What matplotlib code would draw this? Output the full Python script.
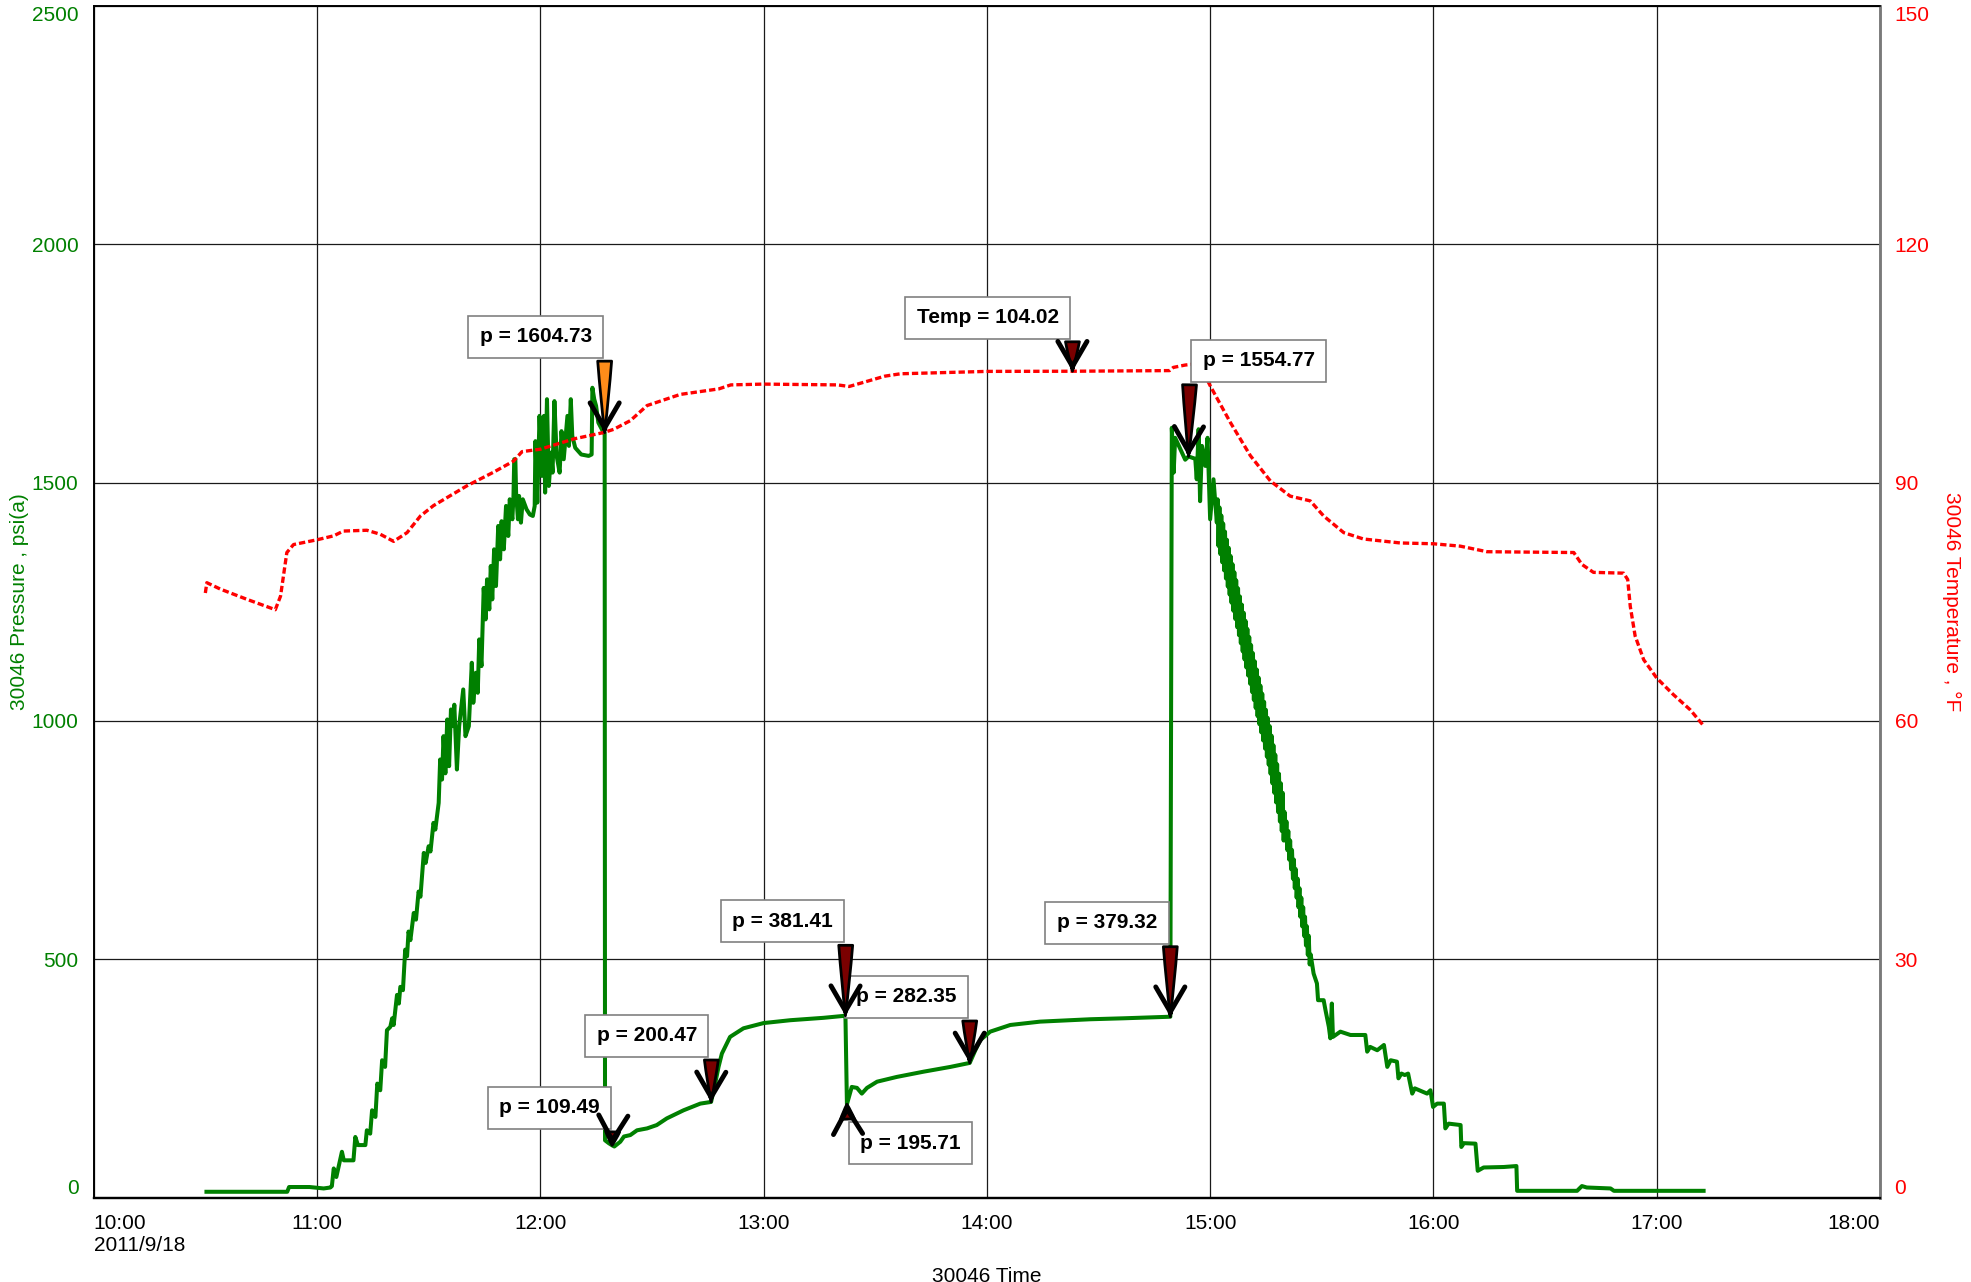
import matplotlib.pyplot as plt
import numpy as np

plt.rcParams['font.family'] = ['Liberation Sans', 'DejaVu Sans']

# pressure readings, (minutes after 10:00, psi(a))
ramp = [
    (30.3, 12), (52.0, 12), (52.5, 22), (58.0, 22), (61.8, 19), (63.6, 21),
    (64.0, 24), (64.5, 61), (65.2, 43), (66.7, 96), (67.2, 78), (69.8, 78),
    (70.3, 127), (71.0, 110), (73.0, 110), (73.4, 141), (74.3, 134), (74.8, 183),
    (75.7, 169), (76.2, 239), (77.0, 225), (77.5, 288), (78.3, 274), (78.8, 351),
    (79.7, 358), (80.2, 376), (80.6, 362), (81.5, 425), (82.0, 407), (82.4, 442),
    (83.1, 435), (83.7, 520), (84.2, 506), (84.6, 558), (85.1, 540), (86.0, 597),
    (86.6, 583), (87.3, 642), (87.8, 631), (88.7, 723), (89.2, 702), (90.0, 737),
    (90.5, 726), (91.3, 786), (91.8, 772), (92.7, 828), (93.1, 919), (93.6, 877),
    (94.0, 968), (94.5, 890), (95.0, 1003), (95.5, 905), (96.0, 1024), (96.5, 989),
    (96.9, 1034), (97.6, 898), (98.2, 989), (99.3, 1066), (99.9, 968), (100.8, 989),
    (101.6, 1122), (102.0, 1038), (102.7, 1101), (103.2, 1059), (103.6, 1171),
    (104.2, 1115), (104.8, 1279), (105.3, 1213), (105.7, 1297), (106.3, 1234),
    (106.7, 1325), (107.1, 1255), (107.6, 1360), (108.1, 1283), (108.7, 1409),
    (109.2, 1339), (109.6, 1419), (110.2, 1360), (110.8, 1451), (111.4, 1388),
    (111.8, 1465), (112.5, 1423), (112.8, 1472), (113.0, 1549), (113.3, 1549),
    (113.5, 1479), (114.0, 1423), (114.3, 1472), (114.8, 1416), (115.3, 1465),
    (116.3, 1444), (117.2, 1433), (118.0, 1430), (118.5, 1451), (118.7, 1587),
    (119.2, 1458), (119.8, 1640), (120.4, 1514), (121.0, 1640), (121.3, 1479),
    (121.8, 1675), (122.3, 1493), (122.9, 1563), (123.3, 1521), (123.8, 1671),
    (124.4, 1556), (125.2, 1521), (125.7, 1608), (126.3, 1549), (126.8, 1594),
    (127.3, 1640), (127.7, 1577), (128.2, 1675), (128.6, 1598), (129.4, 1573),
    (131.0, 1559), (133.0, 1556), (133.8, 1559), (134.0, 1699), (134.5, 1675),
    (135.0, 1661), (135.6, 1626), (137.0, 1605), (137.3, 1604.7),
]
flow1 = [
    (137.4, 120), (138.4, 114), (139.3, 109.5), (139.9, 107), (141.5, 117),
    (142.5, 128), (144.2, 131), (146.0, 141), (148.7, 145), (151.3, 152),
    (154.0, 166), (158.5, 183), (163.0, 197), (165.9, 200.5), (167.0, 239),
    (167.9, 274), (168.8, 302), (171.0, 337), (174.6, 355), (180.0, 366),
    (187.2, 372), (196.1, 377), (202.0, 381.4),
]
flow2 = [
    (202.4, 195.7), (203.1, 215), (203.7, 232), (205.1, 230), (206.4, 218),
    (207.8, 230), (210.5, 243), (215.8, 253), (223.0, 264), (230.2, 274),
    (235.4, 282.4), (236.9, 309), (238.2, 330), (240.9, 348), (246.3, 362),
    (254.3, 369), (267.8, 374), (276.7, 376), (289.3, 379.3),
]
bleed = [
    (289.7, 1615), (290.2, 1521), (290.6, 1594), (292.0, 1570), (293.3, 1548),
    (294.2, 1554.8), (296.0, 1550), (296.4, 1507), (296.9, 1612), (297.3, 1461),
    (297.8, 1577), (298.7, 1535), (299.3, 1594), (300.0, 1423), (300.9, 1507),
    (301.8, 1416),
]
# fast-oscillating gauge reading during the bleed-off
bleed_band = [
    (302.00, 1465), (302.25, 1367), (302.50, 1448), (302.75, 1350),
    (303.00, 1431), (303.25, 1333), (303.50, 1414), (303.75, 1316),
    (304.00, 1397), (304.25, 1299), (304.50, 1380), (304.75, 1282),
    (305.00, 1363), (305.25, 1265), (305.50, 1346), (305.75, 1248),
    (306.00, 1329), (306.25, 1231), (306.50, 1312), (306.75, 1214),
    (307.00, 1295), (307.25, 1197), (307.50, 1278), (307.75, 1180),
    (308.00, 1261), (308.25, 1163), (308.50, 1244), (308.75, 1146),
    (309.00, 1227), (309.25, 1129), (309.50, 1210), (309.75, 1112),
    (310.00, 1193), (310.25, 1095), (310.50, 1176), (310.75, 1078),
    (311.00, 1159), (311.25, 1061), (311.50, 1142), (311.75, 1044),
    (312.00, 1125), (312.25, 1027), (312.50, 1108), (312.75, 1010),
    (313.00, 1091), (313.25, 993), (313.50, 1074), (313.75, 976),
    (314.00, 1057), (314.25, 959), (314.50, 1040), (314.75, 942),
    (315.00, 1023), (315.25, 925), (315.50, 1006), (315.75, 908),
    (316.00, 989), (316.25, 889), (316.50, 969), (316.75, 869),
    (317.00, 949), (317.25, 849), (317.50, 929), (317.75, 829),
    (318.00, 909), (318.25, 809), (318.50, 889), (318.75, 789),
    (319.00, 869), (319.25, 769), (319.50, 849), (319.75, 749),
    (320.00, 809), (320.25, 749), (320.50, 789), (320.75, 729),
    (321.00, 769), (321.25, 709), (321.50, 749), (321.75, 689),
    (322.00, 729), (322.25, 669), (322.50, 709), (322.75, 649),
    (323.00, 689), (323.25, 629), (323.50, 669), (323.75, 609),
    (324.00, 649), (324.25, 589), (324.50, 629), (324.75, 569),
    (325.00, 609), (325.25, 549), (325.50, 589), (325.75, 529),
    (326.00, 569), (326.25, 509), (326.50, 549), (326.75, 489),
    (327.00, 510),
]
tail = [
    (327.8, 470), (328.7, 449), (329.0, 414),
    (330.5, 414), (331.0, 393), (331.9, 358), (332.3, 334), (332.7, 407),
    (333.0, 337), (335.0, 348), (337.7, 341), (341.7, 341), (342.2, 306),
    (343.0, 316), (344.9, 309), (346.7, 320), (347.6, 274), (348.5, 288),
    (350.2, 285), (350.6, 250), (351.4, 260), (352.3, 257), (353.2, 260),
    (354.3, 218), (355.0, 229), (358.3, 218), (359.2, 225), (359.9, 190),
    (361.0, 197), (362.8, 197), (363.2, 145), (364.1, 155), (367.3, 152),
    (367.5, 106), (368.2, 114), (371.3, 113), (371.9, 56), (373.5, 63),
    (378.9, 64), (382.3, 66), (382.5, 14), (398.6, 14), (399.9, 24),
    (401.2, 21), (407.6, 19), (408.5, 14), (432.6, 14),
]

# temperature, (minutes after 10:00, deg F)
temperature = [
    (30.0, 76.1), (30.4, 77.4), (34.0, 76.6), (41.2, 75.3), (48.8, 74.0),
    (50.2, 75.7), (51.9, 81.2), (53.7, 82.2), (60.0, 82.8), (64.5, 83.3),
    (67.1, 83.9), (73.4, 84.0), (77.0, 83.5), (80.6, 82.6), (84.2, 83.7),
    (87.8, 85.8), (91.3, 87.1), (94.9, 88.1), (100.3, 89.6), (107.4, 91.3),
    (112.8, 92.7), (115.1, 93.9), (120.0, 94.2), (129.0, 95.5), (137.0, 96.3),
    (139.7, 96.7), (144.2, 97.8), (148.7, 99.7), (157.6, 101.1), (168.0, 101.8),
    (171.2, 102.3), (180.0, 102.4), (199.9, 102.3), (203.0, 102.1), (212.6, 103.4),
    (216.8, 103.7), (240.0, 104.0), (263.0, 104.02), (289.1, 104.1), (290.1, 104.5),
    (293.3, 104.8), (297.0, 105.0), (300.0, 102.2), (305.4, 97.6), (310.8, 93.4),
    (316.2, 90.2), (321.5, 88.3), (326.9, 87.7), (330.5, 85.8), (335.9, 83.7),
    (341.2, 82.9), (351.1, 82.4), (360.0, 82.3), (367.2, 82.0), (374.4, 81.3),
    (396.8, 81.2), (397.7, 81.2), (399.9, 79.7), (403.0, 78.7), (411.1, 78.6),
    (412.2, 77.8), (412.9, 74.4), (414.2, 70.7), (416.5, 67.7), (420.0, 65.4),
    (424.5, 63.3), (429.0, 61.4), (432.4, 59.5),
]

# callouts: minute, value, which series
callout_min = [137.3, 263.0, 294.2, 202.0, 235.4, 289.3, 202.4, 165.9, 139.3]
callout_val = [1604.73, 104.02, 1554.77, 381.41, 282.35, 379.32, 195.71, 200.47, 109.49]
callout_kind = ['p', 'Temp', 'p', 'p', 'p', 'p', 'p', 'p', 'p']

hour_labels = ['10:00\n2011/9/18', '11:00', '12:00', '13:00', '14:00',
               '15:00', '16:00', '17:00', '18:00']
pressure_ticks = [0, 500, 1000, 1500, 2000, 2500]
temp_ticks = [0, 30, 60, 90, 120, 150]

GREEN = '#008000'
RED = '#ff0000'
MAROON = '#7a0000'
ORANGE = '#ff8c1a'

# layout of the callout boxes (offset points from the arrow tip)
box_offset = [(-49.5, 69.1), (-61.1, 38.4), (50.5, 69.0), (-45.2, 68.2),
              (-45.5, 47.7), (-45.6, 67.8), (45.8, -28.1), (-46.3, 47.6),
              (-45.1, 27.1)]
arrow_start = [(0, 51.5), (0, 21.2), (0.7, 51.6), (0.2, 50.7), (0, 30.2),
               (0, 50.4), (0.4, -10.7), (0.2, 30.2), (0.4, 9.7)]
arrow_fill = [ORANGE] + [MAROON] * 8

fig = plt.figure(figsize=(19.71, 12.82), dpi=100)
ax = fig.add_axes([0.04754, 0.06591, 0.90629, 0.92941])
ax2 = ax.twinx()

press = np.array(ramp + flow1 + flow2 + bleed + bleed_band + tail)
temp = np.array(temperature)

ax.plot(press[:, 0], press[:, 1], color=GREEN, lw=2.9, zorder=3)
ax2.plot(temp[:, 0], temp[:, 1], color=RED, lw=2.4, dashes=(1.9, 0.9), zorder=2)

ax.set_xlim(0, 480)
ax.set_ylim(0, 2500)
ax2.set_ylim(0, 150)

ax.set_xticks(np.arange(0, 481, 60))
ax.set_xticklabels(hour_labels)
ax.set_yticks(pressure_ticks)
ax2.set_yticks(temp_ticks)

ax.tick_params(axis='x', length=0, pad=12, labelsize=15, labelcolor='black')
ax.tick_params(axis='y', length=0, pad=11, labelsize=15, labelcolor=GREEN)
ax2.tick_params(axis='y', length=0, pad=10.5, labelsize=15, labelcolor=RED)

xl = ax.get_xticklabels()
xl[0].set_ha('left')
xl[-1].set_ha('right')
for labs in (ax.get_yticklabels(), ax2.get_yticklabels()):
    labs[0].set_va('bottom')
    labs[-1].set_va('top')

ax.grid(True, color='#1a1a1a', lw=0.9)
ax.set_axisbelow(True)

for a in (ax, ax2):
    a.spines['top'].set_color('black')
    a.spines['top'].set_linewidth(1.2)
    a.spines['left'].set_color('black')
    a.spines['left'].set_linewidth(1.2)
    a.spines['bottom'].set_color('black')
    a.spines['bottom'].set_linewidth(1.6)
    a.spines['right'].set_color('#7a7a7a')
    a.spines['right'].set_linewidth(1.8)

ax.set_xlabel('30046 Time', fontsize=15)
ax.xaxis.set_label_coords(0.5, -0.066)
ax.xaxis.label.set_va('center')
ax.set_ylabel('30046 Pressure , psi(a)', fontsize=15, color=GREEN)
ax.yaxis.set_label_coords(-0.0418, 0.5)
ax.yaxis.label.set_va('center')
ax2.set_ylabel('30046 Temperature , °F', fontsize=15, color=RED, rotation=270)
ax2.yaxis.set_label_coords(1.0403, 0.5)
ax2.yaxis.label.set_va('center')
ax2.yaxis.label.set_ha('center')

# callout boxes, then the arrows on top of them
for i, (m, v, kind) in enumerate(zip(callout_min, callout_val, callout_kind)):
    trans = ax2.transData if kind == 'Temp' else ax.transData
    ax2.annotate(f'{kind} = {v:.2f}', xy=(m, v), xycoords=trans,
                 xytext=box_offset[i], textcoords='offset points',
                 ha='center', va='center', fontsize=15, fontweight='bold',
                 bbox=dict(boxstyle='square,pad=0.55', fc='white',
                           ec='#808080', lw=1.2),
                 zorder=5)

for i, (m, v, kind) in enumerate(zip(callout_min, callout_val, callout_kind)):
    trans = ax2.transData if kind == 'Temp' else ax.transData
    sx, sy = arrow_start[i]
    ax2.annotate('', xy=(m, v), xycoords=trans,
                 xytext=(sx, sy), textcoords='offset points',
                 arrowprops=dict(arrowstyle='wedge,tail_width=1.0,shrink_factor=0.55',
                                 mutation_scale=10, fc=arrow_fill[i], ec='black',
                                 lw=2.0, shrinkA=0, shrinkB=0),
                 zorder=6)
    d = np.hypot(sx, sy)
    ax2.annotate('', xy=(m, v), xycoords=trans,
                 xytext=(4 * sx / d, 4 * sy / d), textcoords='offset points',
                 arrowprops=dict(arrowstyle='->,head_length=1.8,head_width=1.05',
                                 mutation_scale=10, color='black', lw=3.5,
                                 shrinkA=0, shrinkB=0),
                 zorder=7)

fig.savefig('out.png', dpi=100)
